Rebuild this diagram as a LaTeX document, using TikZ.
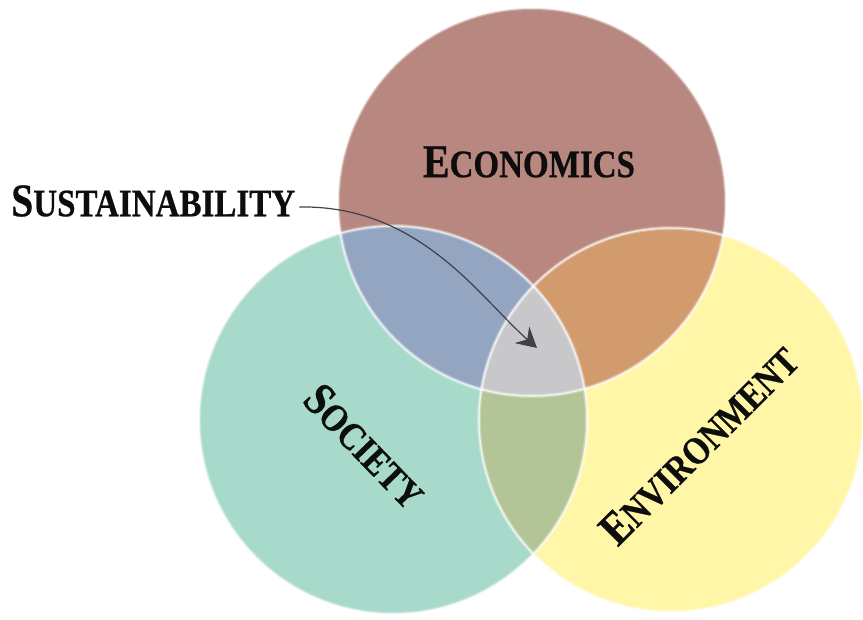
\documentclass[tikz,border=0pt]{standalone}
\usepackage{fontspec}
\setmainfont{Liberation Serif}
\newfontfamily\vennfont[FakeStretch=0.85,BoldFeatures={FakeBold=0.6}]{Liberation Serif}
\usepackage{tikz}
\usetikzlibrary{arrows.meta}

\definecolor{econfill}{HTML}{B8877F}
\definecolor{socfill}{HTML}{A8DACB}
\definecolor{envfill}{HTML}{FFF6A8}
\definecolor{econsoc}{HTML}{94A5C1}
\definecolor{econenv}{HTML}{D29B6D}
\definecolor{socenv}{HTML}{B3C597}
\definecolor{corefill}{HTML}{C8C7CA}
\definecolor{pointer}{HTML}{404048}

% fake small caps: big first letter, smaller rest
\newcommand{\vsc}[2]{{\fontsize{47}{47}\selectfont #1}{\fontsize{39}{39}\selectfont #2}}

\begin{document}
\begin{tikzpicture}[>=Stealth,line join=bevel,
  lbl/.style={inner sep=0pt,text=black!95,font=\vennfont\bfseries},
  rimwide/.style={white,line width=4bp,opacity=0.3},
  rimthin/.style={white,line width=1.5bp,opacity=0.65},
  pointerline/.style={pointer,line width=1.2bp}]
\useasboundingbox (0bp,0bp) rectangle (863bp,620bp);
%%
\coordinate (ce) at (532bp,418bp);
\coordinate (cs) at (393bp,200bp);
\coordinate (cv) at (671bp,200bp);
\coordinate (core) at (537bp,272bp);
%
\fill[econfill] (ce) circle (194bp);
\fill[socfill] (cs) circle (194bp);
\fill[envfill] (cv) circle (192bp);
\begin{scope}
  \clip (ce) circle (194bp);
  \fill[econsoc] (cs) circle (194bp);
  \fill[econenv] (cv) circle (192bp);
\end{scope}
\begin{scope}
  \clip (cs) circle (194bp);
  \fill[socenv] (cv) circle (192bp);
\end{scope}
\begin{scope}
  \clip (ce) circle (194bp);
  \clip (cs) circle (194bp);
  \fill[corefill] (cv) circle (192bp);
\end{scope}
%
\foreach \c/\r in {ce/194,cs/194,cv/192} {
  \draw[rimwide] (\c) circle (\r bp);
  \draw[rimthin] (\c) circle (\r bp);
}
%
\node (econ) at (529bp,458bp) [lbl] {\vsc{E}{CONOMICS}};
\node (soc) at (365bp,174bp) [lbl,rotate=-46] {\vsc{S}{OCIETY}};
\node (env) at (699bp,175bp) [lbl,rotate=45] {\vsc{E}{NVIRONMENT}};
\node (sust) at (11bp,419bp) [lbl,anchor=west] {\vsc{S}{USTAINABILITY}};
%
\draw[pointerline,-{Stealth[length=20bp,width=22bp,inset=7bp]}]
  ([xshift=4bp,yshift=-6bp]sust.east) .. controls (420bp,415bp) and (480bp,322bp) .. (core);
%
\end{tikzpicture}
\end{document}
